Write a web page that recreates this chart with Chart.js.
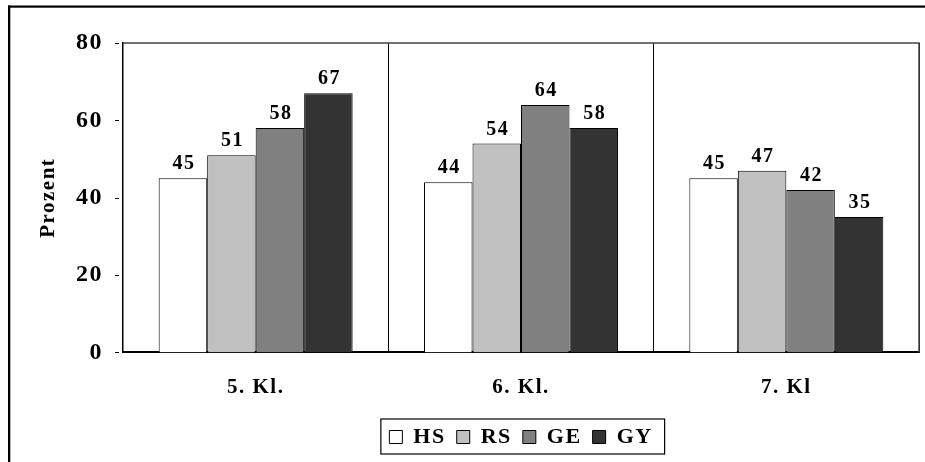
<!DOCTYPE html>
<html>
<head>
<meta charset="utf-8">
<script src="https://cdn.jsdelivr.net/npm/chart.js@4/dist/chart.umd.min.js"></script>
<style>
  html, body { margin: 0; padding: 0; background: #fff; }
  #wrap { width: 925px; height: 462px; }
</style>
</head>
<body>
<div id="wrap"><canvas id="c" width="925" height="462"></canvas></div>
<script>
// Klassenstufen und Schulformen
const categories = ['5. Kl.', '6. Kl.', '7. Kl'];
const seriesNames = ['HS', 'RS', 'GE', 'GY'];
const hsValues = [45, 44, 45];
const rsValues = [51, 54, 47];
const geValues = [58, 64, 42];
const gyValues = [67, 58, 35];
const yTicks = [0, 20, 40, 60, 80];

const fills = ['#ffffff', '#c0c0c0', '#808080', '#333333'];
const serif = '"Liberation Serif", "Times New Roman", serif';
const SPACING = '1.5px';

function setSpacing(chart) {
  if ('letterSpacing' in chart.ctx) chart.ctx.letterSpacing = SPACING;
}

// Rahmen, Achsenstriche, Werte über den Balken, Kasten um die Legende
const decorations = {
  id: 'decorations',
  beforeUpdate(chart) { setSpacing(chart); },
  beforeLayout(chart) { setSpacing(chart); },
  afterLayout(chart) {
    // Legende unter der Zeichenfläche zentrieren
    const lg = chart.legend, a = chart.chartArea;
    if (lg) { lg.left = a.left; lg.right = a.right; lg.width = a.right - a.left; }
  },
  beforeDraw(chart) {
    setSpacing(chart);
    const ctx = chart.ctx;
    ctx.save();
    ctx.fillStyle = '#ffffff';
    ctx.fillRect(0, 0, chart.width, chart.height);
    ctx.fillStyle = '#000000';
    ctx.fillRect(8, 5.5, chart.width, 2.2);
    ctx.fillRect(8, 5.5, 2.3, chart.height);
    ctx.restore();
  },
  afterDatasetsDraw(chart) {
    const ctx = chart.ctx;
    ctx.save();
    ctx.font = 'bold 20px ' + serif;
    ctx.fillStyle = '#000';
    ctx.textAlign = 'center';
    ctx.textBaseline = 'alphabetic';
    chart.data.datasets.forEach((ds, i) => {
      chart.getDatasetMeta(i).data.forEach((bar, j) => {
        ctx.fillText(String(ds.data[j]), bar.x + 1, bar.y - 9);
      });
    });
    ctx.restore();
  },
  afterDraw(chart) {
    const ctx = chart.ctx, a = chart.chartArea, y = chart.scales.y;
    ctx.save();
    // obere und rechte Kante der Zeichenfläche
    ctx.strokeStyle = '#444';
    ctx.lineWidth = 1.5;
    ctx.beginPath();
    ctx.moveTo(a.left, a.top);
    ctx.lineTo(a.right, a.top);
    ctx.lineTo(a.right, a.bottom);
    ctx.stroke();
    // kurze Striche links neben der y-Achse
    ctx.strokeStyle = '#000';
    ctx.lineWidth = 1;
    y.ticks.forEach(t => {
      const py = Math.round(y.getPixelForValue(t.value)) + 0.5;
      ctx.beginPath();
      ctx.moveTo(a.left - 8, py);
      ctx.lineTo(a.left - 4, py);
      ctx.stroke();
    });
    // Kasten um die Legende
    const hb = chart.legend && chart.legend.legendHitBoxes;
    if (hb && hb.length) {
      const first = hb[0], last = hb[hb.length - 1];
      const cy = first.top + first.height / 2;
      ctx.strokeStyle = '#000';
      ctx.lineWidth = 1.2;
      ctx.strokeRect(first.left - 8.5, cy - 18, (last.left + last.width + 12) - (first.left - 8.5), 35);
    }
    ctx.restore();
  }
};

const seriesValues = [hsValues, rsValues, geValues, gyValues];

new Chart(document.getElementById('c'), {
  type: 'bar',
  data: {
    labels: categories,
    datasets: seriesNames.map((name, i) => ({
      label: name,
      data: seriesValues[i],
      backgroundColor: fills[i],
      borderColor: '#000000',
      borderWidth: 1,
      borderSkipped: 'bottom',
      categoryPercentage: 0.731,
      barPercentage: 1.0
    }))
  },
  options: {
    responsive: false,
    animation: false,
    events: [],
    layout: { padding: { top: 43, bottom: 4, left: 0, right: 6 } },
    plugins: {
      tooltip: { enabled: false },
      title: { display: false },
      legend: {
        display: true,
        position: 'bottom',
        align: 'center',
        labels: {
          color: '#000',
          font: { family: serif, size: 22, weight: 'bold' },
          boxWidth: 13,
          boxHeight: 13,
          padding: 11
        }
      }
    },
    scales: {
      x: {
        grid: { display: true, offset: true, color: '#000', lineWidth: 1, drawTicks: false, drawOnChartArea: true },
        border: { display: true, color: '#000', width: 2 },
        ticks: { color: '#000', font: { family: serif, size: 21, weight: 'bold' }, padding: 23 },
        afterFit(scale) { scale.height = 62.6; }
      },
      y: {
        min: 0,
        max: 80,
        afterBuildTicks(scale) { scale.ticks = yTicks.map(v => ({ value: v })); },
        grid: { display: false, drawTicks: false },
        border: { display: true, color: '#000', width: 1.5 },
        ticks: { color: '#000', font: { family: serif, size: 24, weight: 'bold' }, padding: 20 },
        title: {
          display: true,
          text: 'Prozent',
          color: '#000',
          font: { family: serif, size: 21, weight: 'bold' },
          padding: { top: 36, bottom: 0 }
        },
        afterFit(scale) { scale.width = 123; }
      }
    }
  },
  plugins: [decorations]
});
</script>
</body>
</html>
